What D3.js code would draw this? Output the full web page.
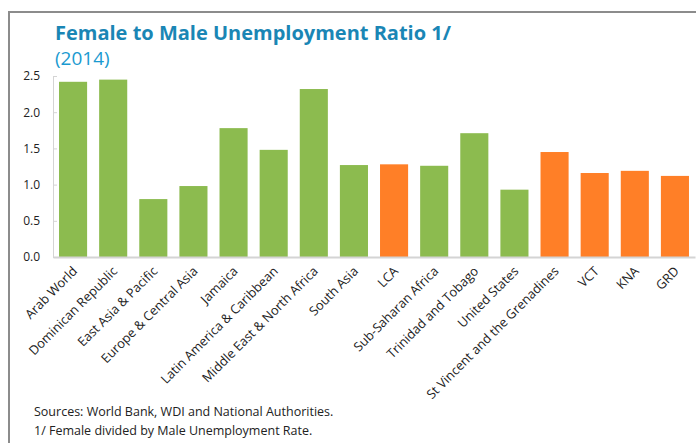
<html lang="en">
<head>
    <meta charset="UTF-8">
    <title>Female to Male Unemployment Ratio</title>
    <style>
        body { margin: 0; background: #fff; }
        text { font-family: "Open Sans", "Noto Sans", sans-serif; }
    </style>
</head>
<body>
<script src="https://cdn.jsdelivr.net/npm/d3@7"></script>
<script>
    var categories = ["Arab World", "Dominican Republic", "East Asia & Pacific", "Europe & Central Asia",
        "Jamaica", "Latin America & Caribbean", "Middle East & North Africa", "South Asia", "LCA",
        "Sub-Saharan Africa", "Trinidad and Tobago", "United States", "St Vincent and the Grenadines",
        "VCT", "KNA", "GRD"];
    var ratios = [2.42, 2.45, 0.80, 0.98, 1.78, 1.48, 2.32, 1.27, 1.28, 1.26, 1.71, 0.93, 1.45, 1.16, 1.19, 1.12];
    var highlighted = ["LCA", "St Vincent and the Grenadines", "VCT", "KNA", "GRD"];
    var yTicks = [0, 0.5, 1.0, 1.5, 2.0, 2.5];

    var width = 696, height = 443;
    var svg = d3.select("body").append("svg").attr("width", width).attr("height", height);

    // frame
    svg.append("rect").attr("x", 9).attr("y", 12).attr("width", 700).attr("height", 450)
        .attr("fill", "none").attr("stroke", "#8c8c8c").attr("stroke-width", 2);

    svg.append("text").attr("x", 55).attr("y", 40)
        .attr("fill", "#1a86b5").attr("font-size", 20).attr("font-weight", "bold")
        .text("Female to Male Unemployment Ratio 1/");
    svg.append("text").attr("x", 55).attr("y", 65)
        .attr("fill", "#1a9ad0").attr("font-size", 19)
        .text("(2014)");

    var x = d3.scaleBand().domain(categories).range([53, 695]).paddingInner(0.3).paddingOuter(0.15);
    var y = d3.scaleLinear().domain([0, 2.5]).range([257, 76]);

    // y axis
    var yAxis = svg.append("g").attr("transform", "translate(53,0)")
        .call(d3.axisRight(y).tickValues(yTicks).tickFormat(d3.format(".1f")).tickSize(4));
    yAxis.select(".domain").attr("stroke", "#d4d4d4");
    yAxis.selectAll(".tick line").attr("stroke", "#d4d4d4");
    yAxis.selectAll(".tick text").attr("x", -13).attr("text-anchor", "end")
        .attr("fill", "#222").attr("font-size", 12).attr("font-family", "Open Sans, sans-serif");

    svg.selectAll(".bar").data(ratios).enter().append("rect").attr("class", "bar")
        .attr("x", function(d, i){ return x(categories[i]); })
        .attr("y", function(d){ return y(d); })
        .attr("width", x.bandwidth())
        .attr("height", function(d){ return y(0) - y(d); })
        .attr("fill", function(d, i){
            return highlighted.indexOf(categories[i]) >= 0 ? "#ff7f27" : "#8cbb4f";
        });

    // x axis
    var xAxis = svg.append("g").attr("transform", "translate(0,257)")
        .call(d3.axisBottom(x).tickSize(0));
    xAxis.select(".domain").attr("stroke", "#d4d4d4").attr("stroke-width", 2);
    xAxis.selectAll(".tick text")
        .attr("text-anchor", "end")
        .attr("font-size", 12.8).attr("fill", "#222").attr("font-family", "Open Sans, sans-serif")
        .attr("dy", 0).attr("y", 0)
        .attr("transform", "translate(5,15) rotate(-45)");

    svg.append("text").attr("x", 34).attr("y", 416).attr("font-size", 12.5).attr("fill", "#222")
        .text("Sources: World Bank, WDI and National Authorities.");
    svg.append("text").attr("x", 34).attr("y", 435).attr("font-size", 12.5).attr("fill", "#222")
        .text("1/  Female divided by Male Unemployment Rate.");
</script>
</body>
</html>
